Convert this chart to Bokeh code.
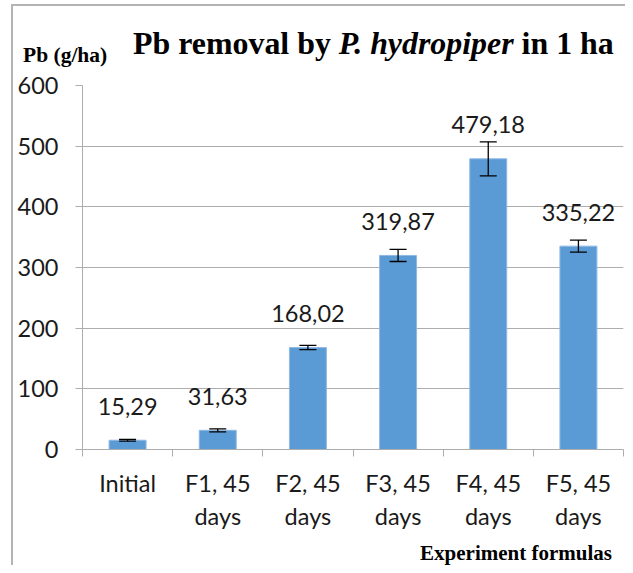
from bokeh.plotting import figure
from bokeh.layouts import column
from bokeh.models import Range1d, FixedTicker, Whisker, ColumnDataSource, TeeHead, Div
from bokeh.core.properties import value
from bokeh.embed import file_html
from bokeh.resources import INLINE

categories = ["Initial", "F1, 45 days", "F2, 45 days", "F3, 45 days", "F4, 45 days", "F5, 45 days"]
tick_labels = ["Initial", "F1, 45\ndays", "F2, 45\ndays", "F3, 45\ndays", "F4, 45\ndays", "F5, 45\ndays"]
pb_values = [15.29, 31.63, 168.02, 319.87, 479.18, 335.22]
pb_errors = [1.5, 2.5, 3.5, 10.0, 28.0, 10.0]
y_ticks = [0, 100, 200, 300, 400, 500, 600]

W = 625
HEAD_H = 70
FIG_H = 470
FOOT_H = 25

SERIF = "font-family:'Liberation Serif','Times New Roman',serif;"

header = Div(
    text=(
        '<div style="position:relative;width:625px;height:70px;">'
        '<div style="position:absolute;left:11px;top:4px;width:614px;height:2px;background:#B4B4B4;"></div>'
        f'<span style="position:absolute;left:23px;top:45px;{SERIF}font-size:21.5px;line-height:1;'
        'font-weight:bold;color:#000;white-space:nowrap;">Pb (g/ha)</span>'
        f'<span style="position:absolute;left:133px;top:28.3px;{SERIF}font-size:31.9px;line-height:1;'
        'font-weight:bold;color:#000;white-space:nowrap;">'
        f'Pb removal by <i style="{SERIF}">P. hydropiper</i> in 1 ha</span>'
        '</div>'
    ),
    width=W, height=HEAD_H, margin=0,
)

footer = Div(
    text=(
        '<div style="position:relative;width:625px;height:25px;">'
        f'<span style="position:absolute;right:13px;top:3.4px;{SERIF}font-size:21px;line-height:1;'
        'font-weight:bold;color:#000;white-space:nowrap;">Experiment formulas</span>'
        '</div>'
    ),
    width=W, height=FOOT_H, margin=0,
)

p = figure(width=W, height=FIG_H, output_backend="svg", toolbar_location=None,
           title_location=None,
           x_range=Range1d(0, 6), y_range=Range1d(0, 600),
           min_border_left=82, min_border_right=2, min_border_top=15, min_border_bottom=91,
           margin=0)
p.outline_line_color = None
p.background_fill_color = None
p.border_fill_color = None

xs = [i + 0.5 for i in range(len(categories))]
src = ColumnDataSource(dict(
    x=xs, top=pb_values,
    upper=[v + e for v, e in zip(pb_values, pb_errors)],
    lower=[v - e for v, e in zip(pb_values, pb_errors)],
    label=[f"{v:.2f}".replace(".", ",") for v in pb_values],
))

p.vbar(x="x", top="top", bottom=0, width=0.41, source=src,
       fill_color="#5B9BD5", line_color="#8FB8E3", line_width=1)

wh = Whisker(base="x", upper="upper", lower="lower", source=src, level="overlay",
             line_color="black", line_width=1.3,
             upper_head=TeeHead(size=17, line_color="black", line_width=1.3),
             lower_head=TeeHead(size=17, line_color="black", line_width=1.3))
p.add_layout(wh)

p.text(x="x", y="top", text="label", source=src, text_align="center",
       text_baseline="middle", y_offset=-34, text_font=value("Lato"),
       text_font_size="23.5px", text_color="#1a1a1a")

grid_c = "#ADADAD"
p.yaxis.ticker = FixedTicker(ticks=y_ticks)
p.yaxis.axis_line_color = grid_c
p.yaxis.major_tick_line_color = grid_c
p.yaxis.major_tick_in = 0
p.yaxis.major_tick_out = 7
p.yaxis.minor_tick_line_color = None
p.yaxis.major_label_text_font = "Lato"
p.yaxis.major_label_text_font_size = "23.5px"
p.yaxis.major_label_text_color = "#1a1a1a"
p.yaxis.major_label_standoff = 17

p.xaxis.ticker = FixedTicker(ticks=xs, minor_ticks=list(range(len(categories) + 1)))
p.xaxis.major_label_overrides = {x: t for x, t in zip(xs, tick_labels)}
p.xaxis.axis_line_color = grid_c
p.xaxis.major_tick_line_color = None
p.xaxis.major_tick_in = 0
p.xaxis.major_tick_out = 0
p.xaxis.minor_tick_line_color = grid_c
p.xaxis.minor_tick_in = 0
p.xaxis.minor_tick_out = 7
p.xaxis.major_label_text_font = "Lato"
p.xaxis.major_label_text_font_size = "23.5px"
p.xaxis.major_label_text_color = "#1a1a1a"
p.xaxis.major_label_standoff = 12

p.xgrid.grid_line_color = None
p.ygrid.ticker = FixedTicker(ticks=y_ticks)
p.ygrid.grid_line_color = grid_c
p.ygrid.grid_line_width = 1

layout = column(header, p, footer, margin=0, spacing=0, styles={
    "background-image": "linear-gradient(#B4B4B4,#B4B4B4)",
    "background-size": "2px 100%",
    "background-position": "11px 4px",
    "background-repeat": "no-repeat",
})

open("out.html", "w").write(file_html(layout, INLINE))
